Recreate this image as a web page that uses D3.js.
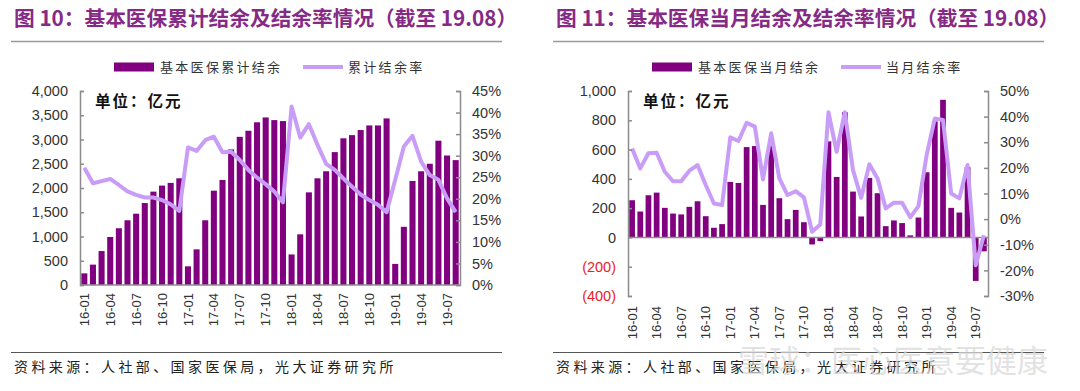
<!DOCTYPE html>
<html><head><meta charset="utf-8">
<script src="https://cdn.jsdelivr.net/npm/d3@7/dist/d3.min.js"></script>
<style>
body{margin:0;background:#fff;}
svg{display:block;}
</style></head>
<body><svg id="c" width="1080" height="391"></svg>
<script>
// ---- data ----
const months = (function(){const a=[];[16,17,18,19].forEach(y=>{for(let m=1;m<=12;m++){if(y===19&&m>8)break;a.push(y+"-"+(m<10?"0"+m:m));}});return a;})();
const tickMonths = ["16-01","16-04","16-07","16-10","17-01","17-04","17-07","17-10","18-01","18-04","18-07","18-10","19-01","19-04","19-07"];
const cumBalance = [240,420,700,990,1170,1335,1470,1690,1925,2050,2105,2200,
  385,735,1335,1945,2165,2795,3055,3180,3355,3455,3400,3380,
  630,1045,1910,2200,2345,2740,3025,3090,3195,3290,3290,3435,
  435,1200,2145,2345,2500,2975,2670,2575];
const cumRate = [27.2,23.6,24.1,24.6,23.2,21.7,20.9,20.3,20.3,19.7,18.7,17.2,
  31.9,31.1,33.6,34.4,30.8,30.9,29.0,26.7,24.9,23.4,21.7,19.2,
  41.4,34.2,37.3,32.5,28.1,26.7,24.7,22.8,21.0,19.7,18.6,16.9,
  24.4,32.1,34.6,28.6,25.5,24.4,20.1,16.9];
const monBalance = [254,177,288,306,202,163,157,209,247,145,66,91,
  379,372,617,624,222,626,268,125,188,104,-48,-25,
  656,413,855,313,143,406,302,77,116,98,14,136,
  445,792,940,202,170,480,-297,-95];
const monRate = [27.6,19.8,25.7,25.9,18.5,14.8,14.8,18.9,21.1,13.3,6.1,5.5,
  31.9,30.5,37.6,36.1,15.5,33.5,15.9,9.4,10.9,8.5,-4.9,-2.1,
  41.7,26.3,41.7,19.1,8.3,21.4,15.9,4.2,6.4,6.4,0.7,5.1,
  25.0,39.3,38.7,10.0,8.1,21.1,-18.0,-6.3];
const leftTicksL = [0,500,1000,1500,2000,2500,3000,3500,4000];
const leftTicksR = [0,5,10,15,20,25,30,35,40,45];
const rightTicksL = [-400,-200,0,200,400,600,800,1000];
const rightTicksR = [-30,-20,-10,0,10,20,30,40,50];
const titles = ["图 10：基本医保累计结余及结余率情况（截至 19.08）","图 11：基本医保当月结余及结余率情况（截至 19.08）"];
const legendBar = ["基本医保累计结余","基本医保当月结余"];
const legendLine = ["累计结余率","当月结余率"];
const unitText = "单位：亿元";
const sourceText = "资料来源：人社部、国家医保局，光大证券研究所";
const watermark = "雪球：医心医意要健康";

// ---- styles ----
const BAR="#800080", LINE="#c99cf7", AXIS="#8c8c8c", TXT="#333", TITLE="#862a86";
const CJK="'Noto Sans CJK SC','Noto Sans',sans-serif";
const NUM="'Liberation Sans',Arial,sans-serif";
const svg = d3.select("#c");

function panel(o){
  const g = svg.append("g");
  // title
  g.append("text").attr("x",o.ox+14).attr("y",26).attr("font-family",CJK).attr("font-weight","bold")
    .attr("font-size",20.7).attr("fill",TITLE).text(o.title);
  g.append("line").attr("x1",o.ox+11).attr("x2",o.ox+502).attr("y1",41.5).attr("y2",41.5).attr("stroke","#9a9a9a").attr("stroke-width",1.5);
  g.append("line").attr("x1",o.ox+11).attr("x2",o.ox+502).attr("y1",352.5).attr("y2",352.5).attr("stroke","#555").attr("stroke-width",1);
  g.append("text").attr("x",o.ox+14).attr("y",372).attr("font-family",CJK).attr("font-size",14).attr("letter-spacing",3.4)
    .attr("fill","#222").text(sourceText);

  const x = d3.scaleBand().domain(months).range([o.x0,o.x1]).paddingInner(0.3).paddingOuter(0.15);
  const yL = d3.scaleLinear().domain(o.domL).range([o.yb,91]);
  const yR = d3.scaleLinear().domain(o.domR).range([o.yb,91]);

  // bars
  g.append("g").selectAll("rect").data(o.bars).join("rect")
    .attr("x",(d,i)=>x(months[i])).attr("width",x.bandwidth())
    .attr("y",d=>Math.min(yL(d),yL(0))).attr("height",d=>Math.abs(yL(d)-yL(0)))
    .attr("fill",BAR);
  // zero axis
  g.append("line").attr("x1",o.x0).attr("x2",o.x1).attr("y1",yL(0)).attr("y2",yL(0)).attr("stroke",AXIS).attr("stroke-width",1.5);
  // line
  const ln = d3.line().x((d,i)=>x(months[i])+x.bandwidth()/2).y(d=>yR(d));
  g.append("path").datum(o.rate).attr("d",ln).attr("fill","none").attr("stroke",LINE).attr("stroke-width",4).attr("stroke-linejoin","round");

  // left axis
  const aL = d3.axisLeft(yL).tickValues(o.ticksL).tickSize(-4).tickPadding(12).tickFormat(o.fmtL);
  const gl = g.append("g").attr("transform",`translate(${o.x0},0)`).call(aL);
  // right axis
  const aR = d3.axisRight(yR).tickValues(o.ticksR).tickSize(-4).tickPadding(12).tickFormat(d=>d+"%");
  const gr = g.append("g").attr("transform",`translate(${o.x1},0)`).call(aR);
  [gl,gr].forEach(a=>{
    a.select(".domain").attr("stroke",AXIS).attr("stroke-width",1.5);
    a.selectAll(".tick line").attr("stroke",AXIS).attr("stroke-width",1.5);
    a.selectAll(".tick text").attr("font-family",NUM).attr("font-size",14.5).attr("fill",TXT);
  });
  gl.selectAll(".tick text").attr("fill",d=>d<0?"#e8231f":TXT);

  // x labels
  g.append("g").selectAll("text").data(tickMonths).join("text")
    .attr("transform",d=>`translate(${x(d)+x.bandwidth()/2},${o.yb+o.xlOff}) rotate(-90)`)
    .attr("text-anchor","end").attr("dy","0.35em").attr("font-family",NUM).attr("font-size",13).attr("fill",TXT).text(d=>d);

  // unit
  g.append("text").attr("x",o.x0+15).attr("y",107).attr("font-family",CJK).attr("font-weight","bold").attr("font-size",15.5)
    .attr("letter-spacing",2).attr("fill","#111").text(unitText);

  // legend
  g.append("rect").attr("x",o.lg).attr("y",62.5).attr("width",40).attr("height",9).attr("fill",BAR);
  g.append("text").attr("x",o.lg+46).attr("y",72).attr("font-family",CJK).attr("font-size",13).attr("letter-spacing",2.3).attr("fill","#333").text(o.lb);
  g.append("line").attr("x1",o.lg+189).attr("x2",o.lg+229).attr("y1",67).attr("y2",67).attr("stroke",LINE).attr("stroke-width",4);
  g.append("text").attr("x",o.lg+234).attr("y",72).attr("font-family",CJK).attr("font-size",13).attr("letter-spacing",2.3).attr("fill","#333").text(o.ll);
}

panel({ox:0,title:titles[0],x0:80,x1:460,yb:285,domL:[0,4000],domR:[0,45],bars:cumBalance,rate:cumRate,
  ticksL:leftTicksL,ticksR:leftTicksR,fmtL:d3.format(","),xlOff:8,lg:114,lb:legendBar[0],ll:legendLine[0]});
panel({ox:542,title:titles[1],x0:628,x1:988,yb:296,domL:[-400,1000],domR:[-30,50],bars:monBalance,rate:monRate,
  ticksL:rightTicksL,ticksR:rightTicksR,fmtL:d=>d<0?"("+(-d)+")":d3.format(",")(d),xlOff:10,lg:652,lb:legendBar[1],ll:legendLine[1]});

// watermark (semi-transparent overlay, as in the reference)
svg.append("text").attr("x",738).attr("y",372).attr("font-family",CJK).attr("font-size",31).attr("fill","#d9d9d9").attr("opacity",0.75).text(watermark);
</script></body></html>
